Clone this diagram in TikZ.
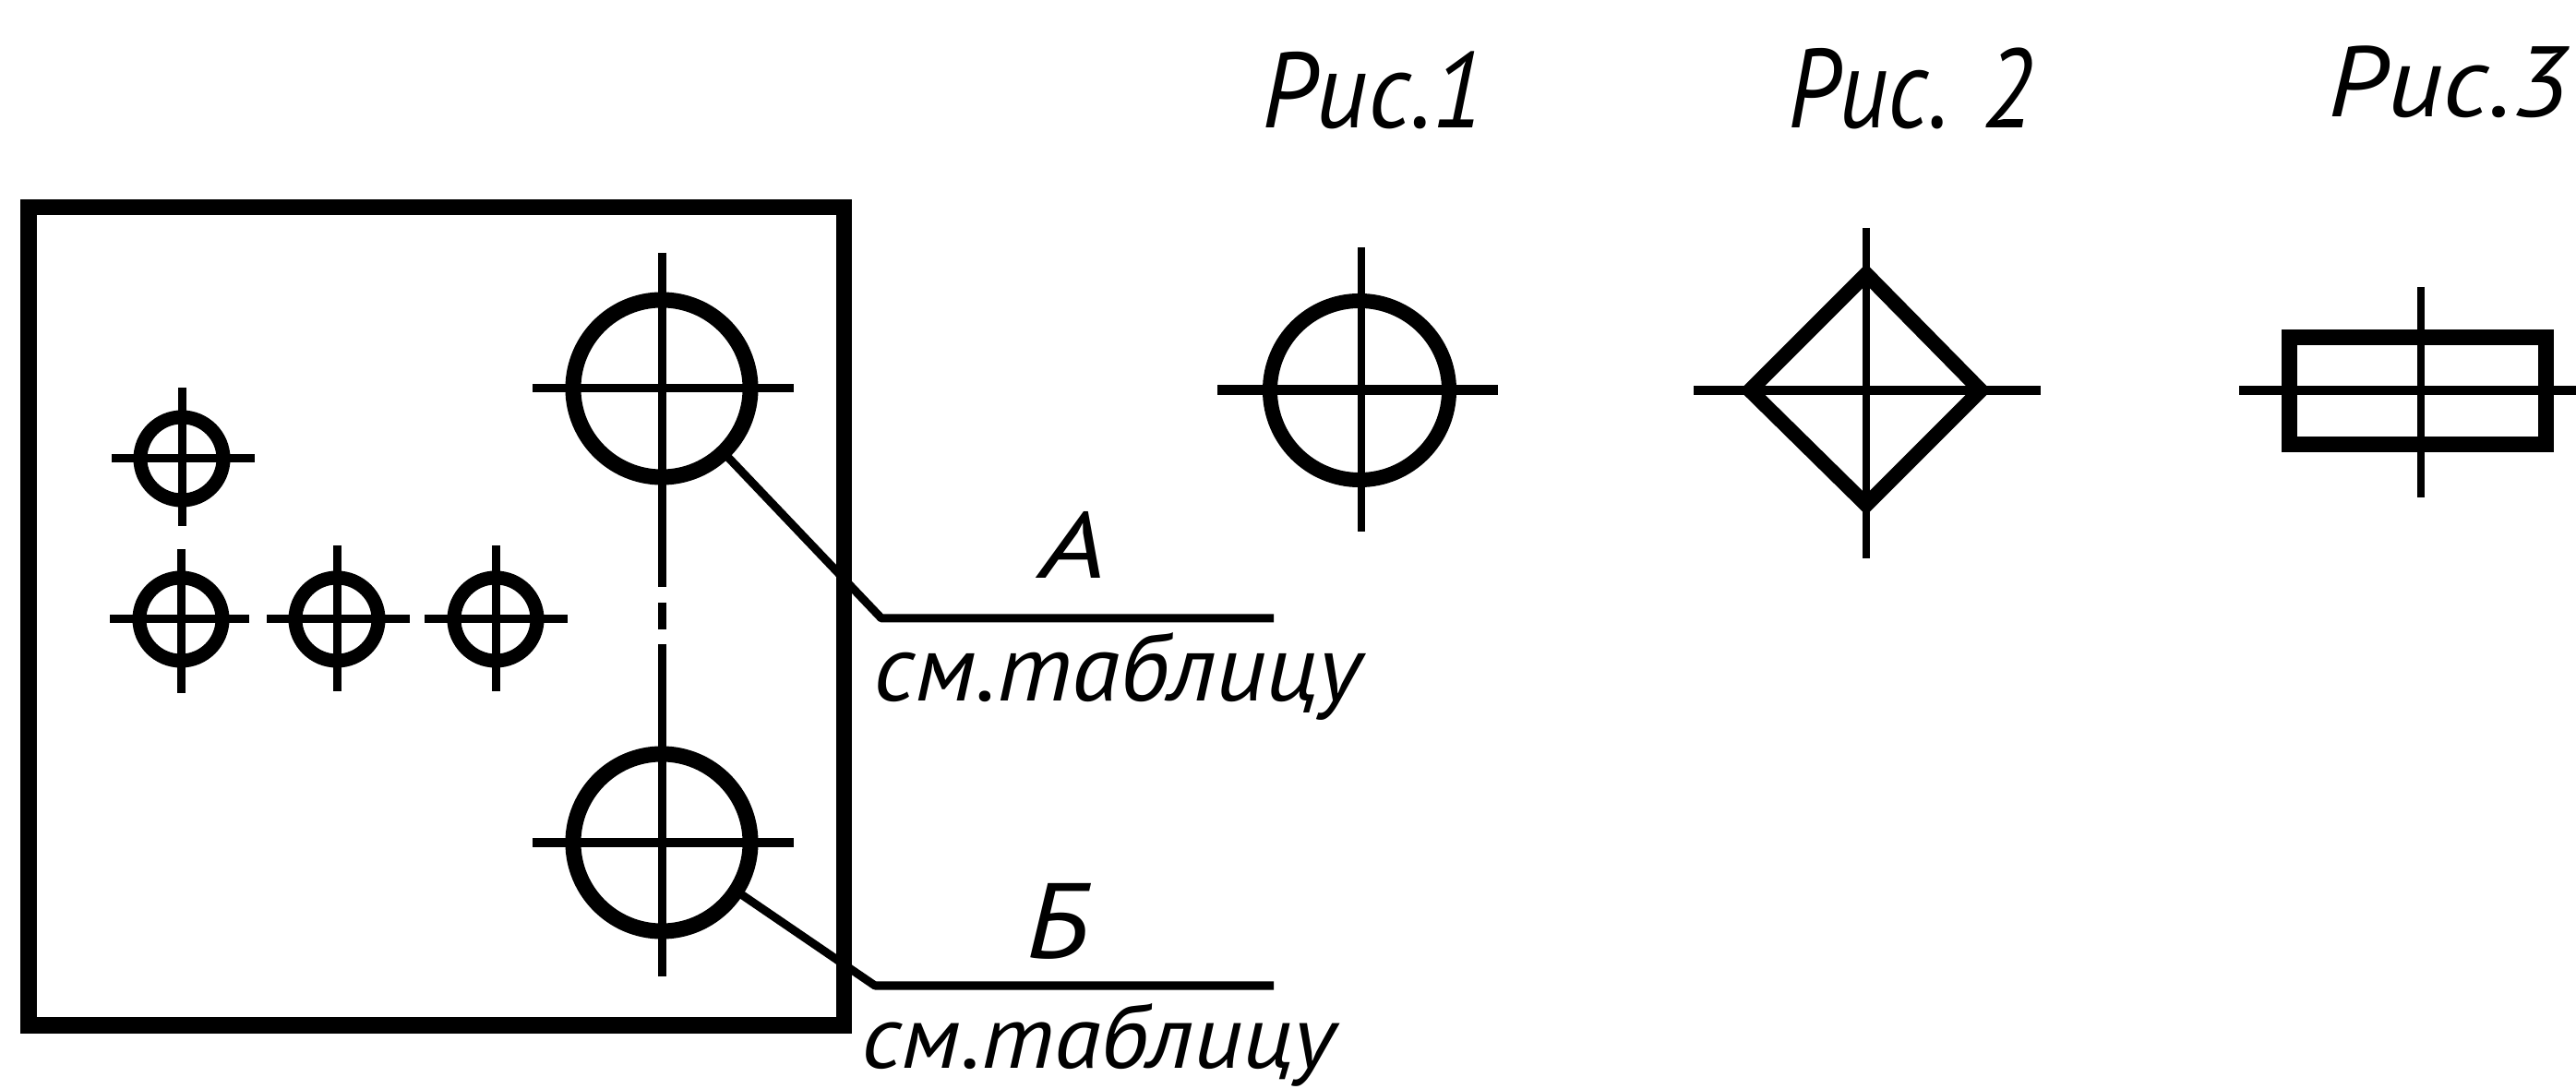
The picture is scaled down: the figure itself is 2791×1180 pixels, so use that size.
\documentclass[tikz,border=0pt]{standalone}
\usepackage{graphicx}
\usepackage{fontspec}
\newfontfamily\gost{PT Sans}
\newcommand{\gosttext}[3]{\resizebox*{#1cm}{#2cm}{\gost\itshape #3}}
\tikzset{
  hole/.style={circle,draw=black,fill=none,inner sep=0pt,outer sep=0pt},
  bighole/.style={hole,line width=0.17cm,minimum size=1.92cm},
  smallhole/.style={hole,line width=0.15cm,minimum size=0.90cm},
  axis/.style={draw=black,line width=0.09cm},
  leader/.style={draw=black,line width=0.09cm,line join=round},
  label/.style={inner sep=0pt,outer sep=0pt,text=black},
  thick outline/.style={draw=black,line width=0.17cm,line join=miter}
}
\begin{document}
\begin{tikzpicture}[x=0.01cm,y=-0.01cm]
\useasboundingbox (0,0) rectangle (2791,1180);
\fill[white] (0,0) rectangle (2791,1180);
% plate
\draw[thick outline] (31,225) rectangle (914,1111);
% large holes
\node[bighole] (h1) at (717,421) {};
\node[bighole] (h2) at (717,913) {};
\draw[axis] (577,421) -- (860,421);
\draw[axis] (577,913) -- (860,913);
\draw[axis] (717,274) -- (717,636) (717,653) -- (717,682) (717,698) -- (717,1058);
% small holes
\node[smallhole] (s1) at (197,497) {};
\node[smallhole] (s2) at (196,671) {};
\node[smallhole] (s3) at (365,671) {};
\node[smallhole] (s4) at (537,671) {};
\draw[axis] (121,497) -- (276,497) (197,420) -- (197,570);
\draw[axis] (119,671) -- (270,671) (196,595) -- (196,751);
\draw[axis] (289,671) -- (444,671) (365,591) -- (365,749);
\draw[axis] (460,671) -- (615,671) (537,591) -- (537,749);
% leaders
\coordinate (ea) at (955,670);
\coordinate (eb) at (1380,670);
\coordinate (ec) at (948,1068);
\coordinate (ed) at (1380,1068);
\draw[leader] (h1.-46) -- (ea) -- (eb);
\draw[leader] (h2.-33) -- (ec) -- (ed);
% leader labels
\node[label] (la) at (1163,590) {\gosttext{0.72}{0.72}{А}};
\node[label] (lb) at (1146,998) {\gosttext{0.68}{0.82}{Б}};
\node[label] (ta) at (1211,733) {\gosttext{5.28}{0.95}{см.таблицу}};
\node[label] (tb) at (1190,1132) {\gosttext{5.13}{0.90}{см.таблицу}};
% fig 1
\node[label] (c1) at (1488,98) {\gosttext{2.41}{0.84}{Рис.1}};
\node[hole,line width=0.16cm,minimum size=1.94cm] (f1) at (1473,423) {};
\draw[axis,line width=0.11cm] (1319,423) -- (1623,423);
\draw[axis,line width=0.08cm] (1475,268) -- (1475,576);
% fig 2
\node[label] (c2) at (2070,96) {\gosttext{2.65}{0.88}{Рис. 2}};
\draw[draw=black,line width=0.16cm,line join=miter] (1896,423) -- (2022,297) -- (2146,423) -- (2022,547) -- cycle;
\draw[axis,line width=0.10cm] (1835,423) -- (2211,423);
\draw[axis,line width=0.08cm] (2022,247) -- (2022,605);
% fig 3
\node[label] (c3) at (2653,89) {\gosttext{2.60}{0.78}{Рис.3}};
\draw[thick outline] (2480,366) rectangle (2758,482);
\draw[axis,line width=0.10cm] (2426,423) -- (2791,423);
\draw[axis,line width=0.08cm] (2623,311) -- (2623,539);
\end{tikzpicture}
\end{document}
